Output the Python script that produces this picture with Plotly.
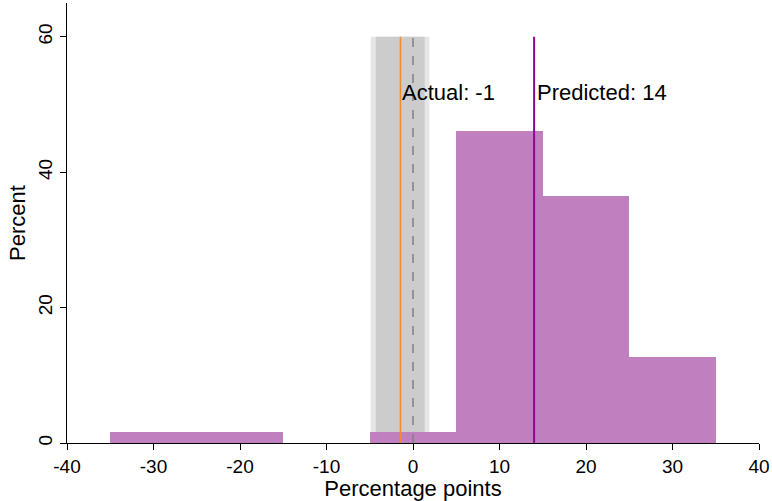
import plotly.graph_objects as go

# Histogram bins (width 10) and their share of observations, in percent
bin_centers = [-30, -20, -10, 0, 10, 20, 30]
bin_percent = [1.587, 1.587, 0.0, 1.587, 46.03, 36.51, 12.70]
bin_width = 10

# Reference values
actual = -1.45
predicted = 14.0
ci_outer = [-4.9, 1.9]
ci_inner = [-4.3, 1.35]
line_top = 60

x_ticks = [-40, -30, -20, -10, 0, 10, 20, 30, 40]
x_tick_labels = ["-40", "-30", "-20", "-10", "0", "10", "20", "30", "40"]
y_ticks = [0, 20, 40, 60]

FONT = "Liberation Sans, Arial, sans-serif"

fig = go.Figure()
fig.add_trace(go.Bar(
    x=bin_centers, y=bin_percent, width=[bin_width] * len(bin_centers),
    marker=dict(color="#c080c0", line=dict(width=0)),
    showlegend=False, hoverinfo="skip",
))

# Shaded interval around zero
fig.add_shape(type="rect", x0=ci_outer[0], x1=ci_outer[1], y0=0, y1=line_top,
              fillcolor="#e6e6e6", line=dict(width=0), layer="below")
fig.add_shape(type="rect", x0=ci_inner[0], x1=ci_inner[1], y0=0, y1=line_top,
              fillcolor="#cccccc", line=dict(width=0), layer="below")

# Zero, actual and predicted reference lines
fig.add_shape(type="line", x0=0, x1=0, y0=0, y1=line_top,
              line=dict(color="#808080", width=1.5, dash="dash"))
fig.add_shape(type="line", x0=actual, x1=actual, y0=0, y1=line_top,
              line=dict(color="#f28c28", width=1.5))
fig.add_shape(type="line", x0=predicted, x1=predicted, y0=0, y1=line_top,
              line=dict(color="#8b0a8b", width=2))

fig.add_annotation(x=actual, y=51.8, text=f"Actual: {actual:.0f}", showarrow=False,
                   xanchor="left", yanchor="middle", xshift=0,
                   font=dict(family=FONT, size=22, color="black"))
fig.add_annotation(x=predicted, y=51.8, text=f"Predicted: {predicted:.0f}", showarrow=False,
                   xanchor="left", yanchor="middle", xshift=1,
                   font=dict(family=FONT, size=22, color="black"))

fig.update_layout(
    width=772, height=501,
    margin=dict(l=67, r=13, t=3, b=58),
    paper_bgcolor="white", plot_bgcolor="white",
    bargap=0,
    font=dict(family=FONT, size=19, color="black"),
    xaxis=dict(
        range=[-40, 40], tickvals=x_ticks, ticktext=x_tick_labels,
        ticks="outside", ticklen=6,
        tickcolor="black", showline=True, linecolor="black", linewidth=1,
        showgrid=False, zeroline=False,
        title=dict(text="Percentage points", font=dict(size=22), standoff=0),
        tickfont=dict(size=19),
    ),
    yaxis=dict(
        range=[0, 65], tickvals=y_ticks, ticks="outside", ticklen=6,
        tickcolor="black", showline=True, linecolor="black", linewidth=1,
        showgrid=False, zeroline=False, tickangle=-90,
        title=dict(text="Percent", font=dict(size=22), standoff=3),
        tickfont=dict(size=19),
    ),
)

fig.write_html("out.html")
